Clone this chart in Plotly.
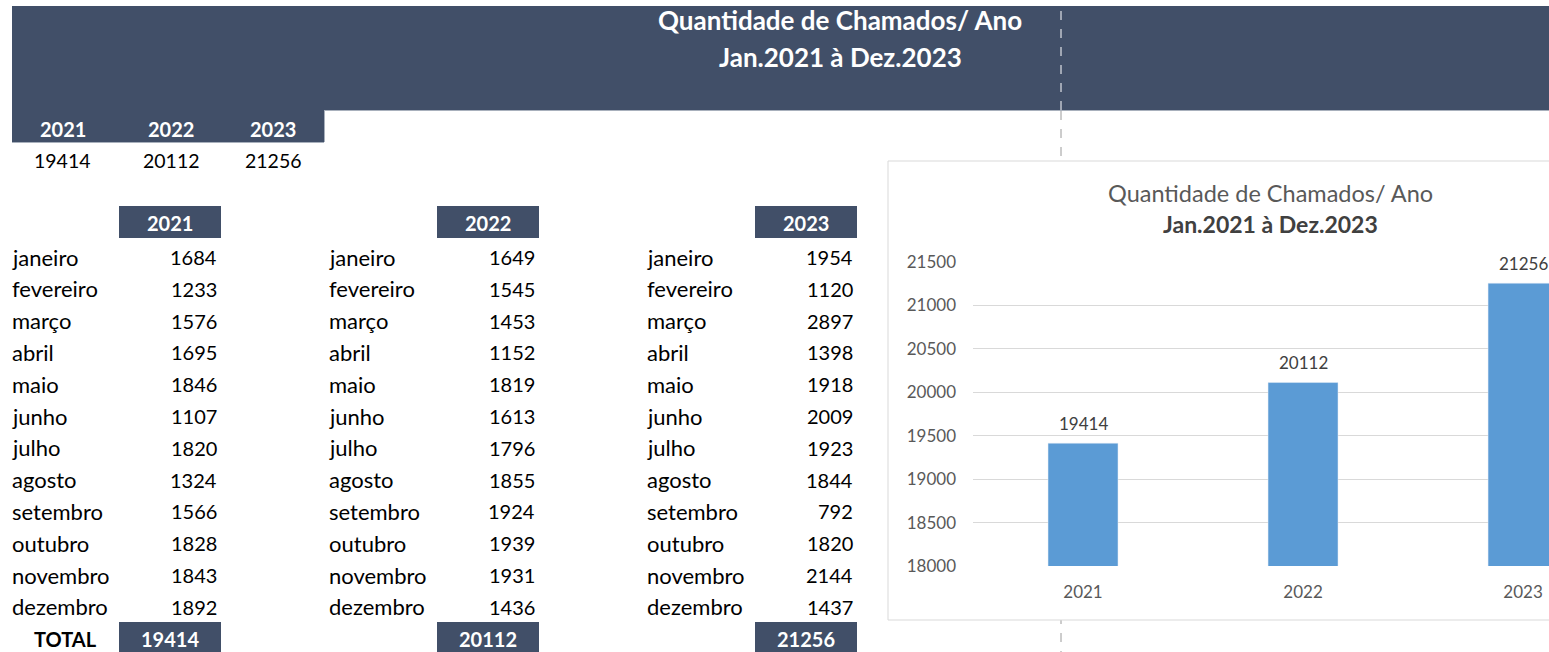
import plotly.graph_objects as go

W, H = 1549, 652

# ---------------- data ----------------
months = ["janeiro", "fevereiro", "março", "abril", "maio", "junho", "julho",
          "agosto", "setembro", "outubro", "novembro", "dezembro"]
years = ["2021", "2022", "2023"]
values_2021 = [1684, 1233, 1576, 1695, 1846, 1107, 1820, 1324, 1566, 1828, 1843, 1892]
values_2022 = [1649, 1545, 1453, 1152, 1819, 1613, 1796, 1855, 1924, 1939, 1931, 1436]
values_2023 = [1954, 1120, 2897, 1398, 1918, 2009, 1923, 1844, 792, 1820, 2144, 1437]
monthly = [values_2021, values_2022, values_2023]
totals = [sum(v) for v in monthly]
y_ticks = [18000, 18500, 19000, 19500, 20000, 20500, 21000, 21500]

title_line1 = "Quantidade de Chamados/ Ano"
title_line2 = "Jan.2021 à Dez.2023"
total_label = "TOTAL"

# ---------------- style ----------------
DARK = "#414F68"
BAR = "#5B9BD5"
GRID = "#D9D9D9"
FONT = "Lato"


def X(px):
    return px / W


def Y(py):
    return 1 - py / H


shapes = []
annotations = []


def rect(x0, y0, x1, y1, fill, line=None):
    shapes.append(dict(type="rect", xref="paper", yref="paper",
                       x0=X(x0), x1=X(x1), y0=Y(y1), y1=Y(y0),
                       fillcolor=fill, line=line or dict(width=0), layer="below"))


def hline(y, x0, x1, color):
    shapes.append(dict(type="line", xref="paper", yref="paper",
                       x0=X(x0), x1=X(x1), y0=Y(y), y1=Y(y),
                       line=dict(color=color, width=1), layer="below"))


def vline(x, y0, y1, color, dash="dash"):
    shapes.append(dict(type="line", xref="paper", yref="paper",
                       x0=X(x), x1=X(x), y0=Y(y1), y1=Y(y0),
                       line=dict(color=color, width=1, dash=dash), layer="below"))


def text(s, x, y, anchor="center", size=21, color="black", bold=False):
    annotations.append(dict(text=f"<b>{s}</b>" if bold else s, x=X(x), y=Y(y),
                            xref="paper", yref="paper", xanchor=anchor, yanchor="middle",
                            showarrow=False,
                            font=dict(family=FONT, size=size, color=color)))


# header band
rect(12, 6, 1600, 110, DARK)
rect(12, 6, 324, 142, DARK)
hline(110.5, 324, 1600, "#A8B0BC")
hline(142.5, 12, 324, "#A8B0BC")
vline(324.5, 110, 142, "#A8B0BC", dash="solid")
vline(1061, 6, 110, "white")
vline(1061, 111, 660, "#9A9A9A")

text(title_line1, 840, 20, size=26, color="white", bold=True)
text(title_line2, 840, 57, size=26, color="white", bold=True)

# top yearly summary
top_x = [63, 171, 273]
for i, yr in enumerate(years):
    text(yr, top_x[i], 129, size=20, color="white", bold=True)
    text(str(totals[i]), top_x[i], 160, size=19.5)

# monthly tables
name_x = [10, 327, 645]
val_right = [219, 537, 855]
box_x = [(119, 221), (437, 539), (755, 857)]
row0, step = 257, 31.8
for t, yr in enumerate(years):
    bx0, bx1 = box_x[t]
    rect(bx0, 206, bx1, 238, DARK)
    text(yr, (bx0 + bx1) / 2, 223, size=20, color="white", bold=True)
    for i, m in enumerate(months):
        yy = row0 + i * step
        text(m, name_x[t], yy, anchor="left", size=22)
        text(str(monthly[t][i]), val_right[t], yy, anchor="right", size=20)
    rect(bx0, 622, bx1, 670, DARK)
    text(str(totals[t]), (bx0 + bx1) / 2, 639, size=20, color="white", bold=True)
text(total_label, 65, 639, size=20, bold=True)

# chart box
rect(888, 161, 1600, 620, "white", line=dict(color=GRID, width=1))
text(title_line1, 1270, 193, size=23.5, color="#595959")
text(title_line2, 1270, 224, size=23, color="#404040", bold=True)

# bar chart
fig = go.Figure()
fig.add_trace(go.Bar(x=years, y=totals, marker_color=BAR, width=0.318,
                     hoverinfo="x+y"))
for i, tot in enumerate(totals):
    annotations.append(dict(x=i, y=tot, xref="x", yref="y", text=str(tot),
                            showarrow=False, yshift=20, yanchor="middle",
                            font=dict(family=FONT, size=17, color="#404040")))

fig.update_layout(
    width=W, height=H,
    autosize=False,
    margin=dict(l=0, r=0, t=0, b=0, pad=0),
    paper_bgcolor="white",
    plot_bgcolor="rgba(0,0,0,0)",
    showlegend=False,
    shapes=shapes,
    annotations=annotations,
    xaxis=dict(domain=[X(973), 1], type="category", range=[-0.5, 2.118],
               automargin=False,
               showgrid=False, showline=False, zeroline=False, ticks="",
               tickfont=dict(family=FONT, size=17, color="#595959"),
               ticklabelstandoff=14),
    yaxis=dict(domain=[Y(566), Y(262)], range=[18000, 21500],
               automargin=False, tickformat="d",
               tickvals=y_ticks, showgrid=True, gridcolor=GRID, gridwidth=1,
               showline=False, zeroline=False, ticks="",
               tickfont=dict(family=FONT, size=17, color="#595959"),
               ticklabelstandoff=16),
)

fig.write_html("out.html", config={"displayModeBar": False},
               post_script="document.body.style.margin='0';document.body.style.overflow='hidden';")
